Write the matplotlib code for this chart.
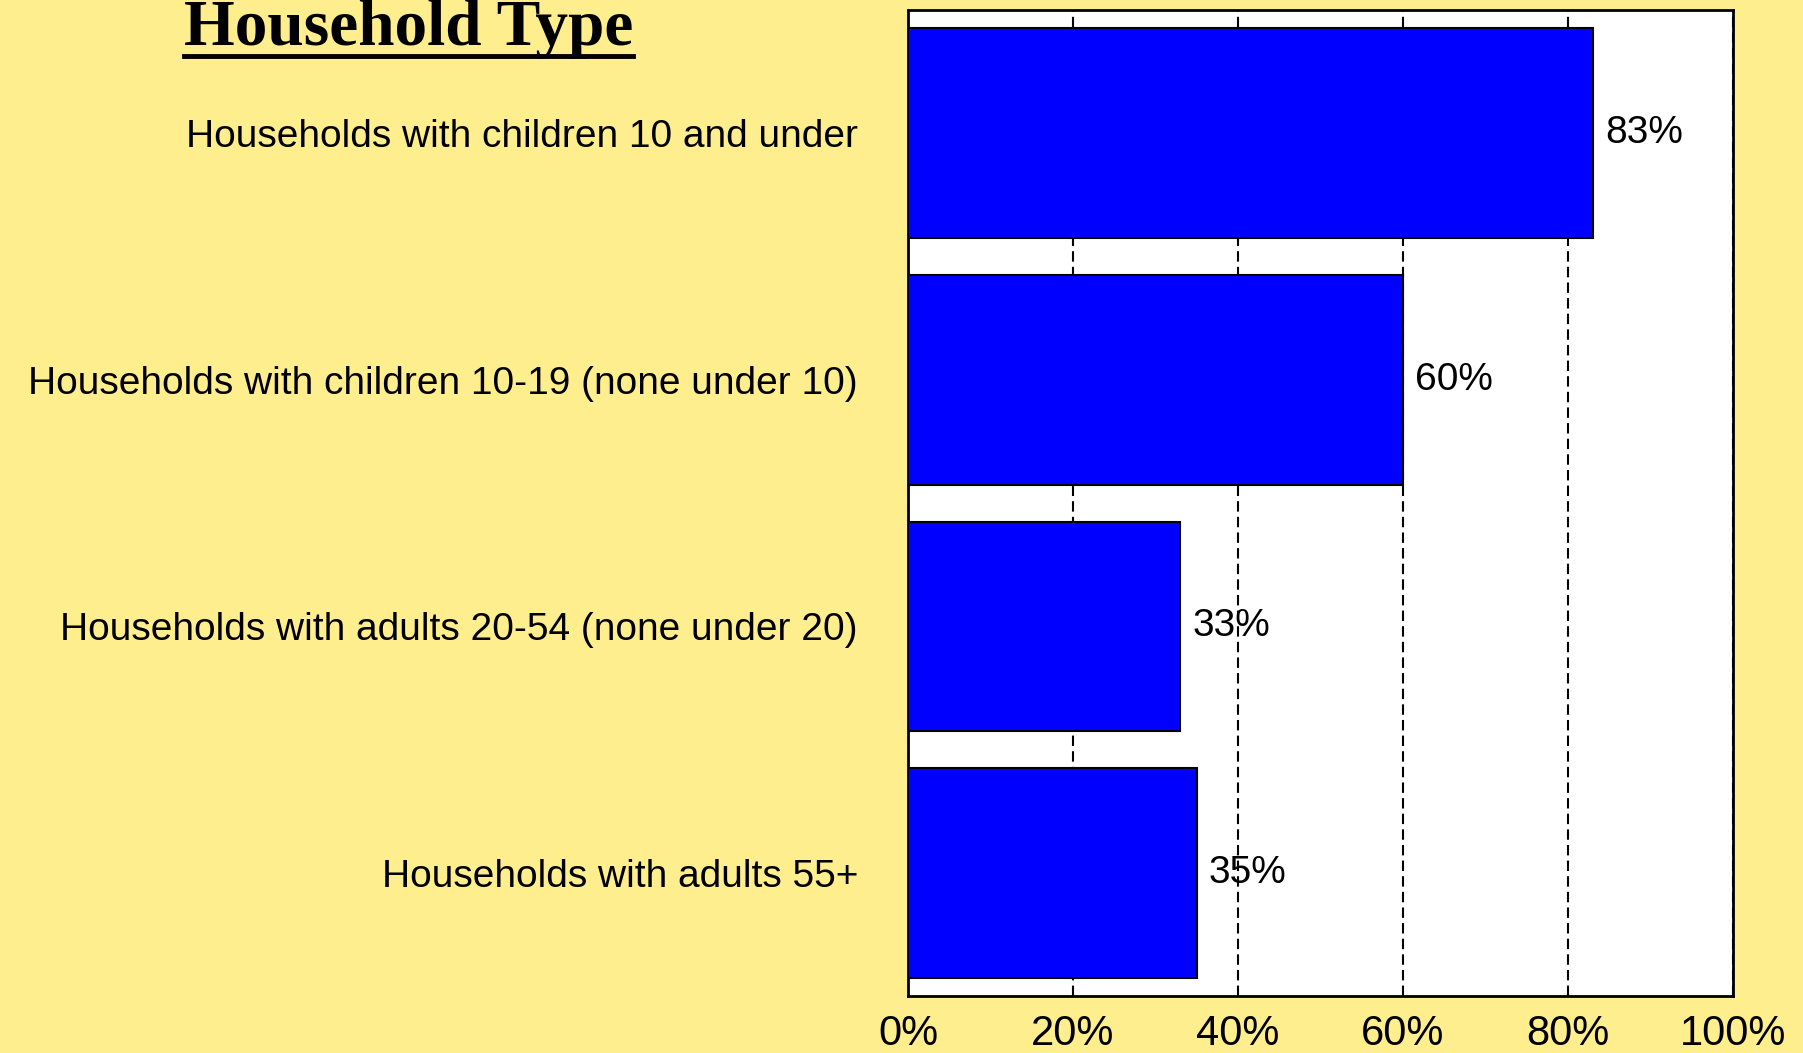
import matplotlib
matplotlib.use("Agg")
import matplotlib.pyplot as plt
from matplotlib.lines import Line2D

categories = [
    "Households with children 10 and under",
    "Households with children 10-19 (none under 10)",
    "Households with adults 20-54 (none under 20)",
    "Households with adults 55+",
]
values = [83, 60, 33, 35]
xticks = [0, 20, 40, 60, 80, 100]
xtick_labels = ["0%", "20%", "40%", "60%", "80%", "100%"]
title = "Household Type"

bg = "#FFEE8E"
fig = plt.figure(figsize=(18.03, 10.53), dpi=100, facecolor=bg)
ax = fig.add_axes([0.5036, 0.0541, 0.4576, 0.9364])
ax.set_facecolor("white")

ypos = list(range(len(categories)))
ax.barh(ypos, values, height=0.85, color="#0000FF", edgecolor="black",
        linewidth=1.5, zorder=3)
ax.set_ylim(len(categories) - 0.5, -0.5)
ax.set_xlim(0, 100)

for y, v in zip(ypos, values):
    ax.annotate(f"{v}%", xy=(v, y), xytext=(12, 0), textcoords="offset pixels",
                va="center", ha="left", fontsize=28,
                family="Liberation Sans", color="black", zorder=4)

ax.set_yticks(ypos)
ax.set_yticklabels(categories, fontsize=28, family="Liberation Sans")
ax.tick_params(axis="y", length=0, pad=36)
ax.set_xticks(xticks)
ax.set_xticklabels(xtick_labels, fontsize=30, family="Liberation Sans")
ax.tick_params(axis="x", length=0, pad=13)

ax.grid(axis="x", color="black", linestyle=(0, (5, 2.5)), linewidth=1.5, zorder=1)
ax.set_axisbelow(True)
for s in ax.spines.values():
    s.set_linewidth(2)
    s.set_color("black")

t = fig.text(184 / 1803, 1 - 45 / 1053, title, fontsize=47, fontweight="bold",
             family="Liberation Serif", ha="left", va="baseline", color="black")
fig.canvas.draw()
bb = t.get_window_extent(renderer=fig.canvas.get_renderer())
W, H = fig.get_size_inches() * fig.dpi
yline = (1053 - 56) / 1053
fig.add_artist(Line2D([bb.x0 / W, bb.x1 / W], [yline, yline], color="black",
                      linewidth=3.5, transform=fig.transFigure))

fig.savefig("out.png", dpi=100, facecolor=bg)
